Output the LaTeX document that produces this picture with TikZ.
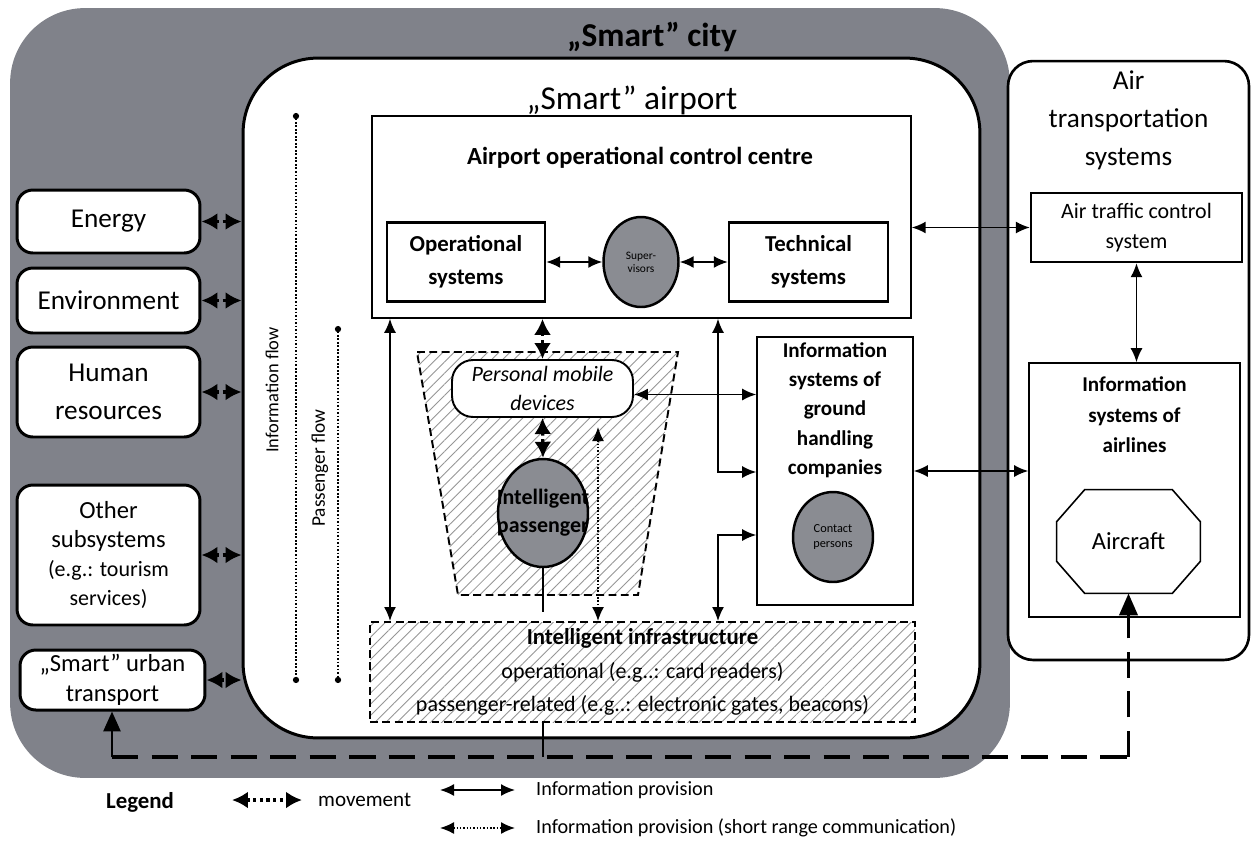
\documentclass[tikz,border=0pt]{standalone}
\usepackage{fontspec}
\setmainfont{Carlito}
\usetikzlibrary{arrows.meta,calc,patterns.meta,shapes.geometric}

\definecolor{citygrey}{RGB}{128,130,138}
\definecolor{persongrey}{RGB}{138,140,146}
\definecolor{hatchgrey}{RGB}{150,150,150}

\tikzset{
  sidebox/.style={draw, line width=1.7pt, rounded corners=9pt, fill=white, align=center, inner sep=1pt},
  sysbox/.style={draw, line width=1.4pt, fill=white, align=center, font=\bfseries\fontsize{13}{19}\selectfont},
  thinbox/.style={draw, line width=0.9pt, fill=white},
  person/.style={ellipse, draw, line width=1.4pt, fill=persongrey, inner sep=0pt},
  dashbox/.style={draw, dash pattern=on 4.5pt off 2.5pt, line width=1.1pt},
  hatched/.style={pattern={Lines[angle=45,distance=4.5pt,line width=0.5pt]}, pattern color=hatchgrey},
  infoarrow/.style={{Latex[length=2.8mm,width=2.4mm]}-{Latex[length=2.8mm,width=2.4mm]}, line width=1pt},
  movearrow/.style={{Latex[length=3.2mm,width=3.4mm]}-{Latex[length=3.2mm,width=3.4mm]}, line width=1.8pt, dotted},
  shortarrow/.style={{Latex[length=2.8mm,width=2.4mm]}-{Latex[length=2.8mm,width=2.4mm]}, line width=0.9pt, densely dotted},
  flowline/.style={{Circle[length=3.5pt]}-{Circle[length=3.5pt]}, line width=1pt, densely dotted},
  dashline/.style={line width=2.2pt, dash pattern=on 15pt off 7.5pt},
}

\begin{document}
\begin{tikzpicture}[x=0.02cm, y=-0.02cm]
\useasboundingbox (0,0) rectangle (1252,840);

\node[fill=citygrey, rounded corners=1.5cm, minimum width=20cm, minimum height=15.4cm] (city) at (510,393) {};
\node[font=\bfseries\fontsize{19}{22}\selectfont] (citytitle) at (652,37) {„Smart” city};

\node[draw, line width=1.7pt, rounded corners=1.5cm, fill=white, minimum width=14.74cm, minimum height=13.6cm] (airport) at (611.5,398) {};
\node[font=\fontsize{19}{22}\selectfont] (airporttitle) at (632,100) {„Smart” airport};

\node[draw, line width=1.5pt, rounded corners=0.5cm, fill=white, minimum width=4.82cm, minimum height=11.98cm] (airsys) at (1128.5,360.5) {};
\node[font=\fontsize{15.5}{21.5}\selectfont, align=center, anchor=north] (airsystitle) at ($(airsys.north)+(0,5)$) {Air\\transportation\\systems};

\node[sidebox, minimum width=3.66cm, minimum height=1.26cm, font=\fontsize{15.5}{21}\selectfont] (energy) at (108.5,221.5) {Energy};
\node[sidebox, minimum width=3.66cm, minimum height=1.3cm, font=\fontsize{15.5}{21}\selectfont] (environment) at (108.5,300.5) {Environment};
\node[sidebox, minimum width=3.66cm, minimum height=1.8cm, font=\fontsize{15.5}{21.5}\selectfont] (human) at (108.5,392) {Human\\resources};
\node[sidebox, minimum width=3.66cm, minimum height=2.8cm, font=\fontsize{14}{16.5}\selectfont] (other) at (108.5,555) {Other\\subsystems\\{\fontsize{12.5}{16}\selectfont (e.g.: tourism}\\{\fontsize{12.5}{16}\selectfont services)}};
\node[sidebox, minimum width=3.7cm, minimum height=1.2cm, font=\fontsize{14}{17}\selectfont] (urban) at (112.5,680) {„Smart” urban\\transport};

\foreach \side in {energy, environment, human, other, urban}
  \draw[movearrow] (\side.east) -- (\side.east -| airport.west);

\coordinate (iftop) at (296,113);
\coordinate (ifbot) at (296,683);
\draw[flowline] (iftop) -- (ifbot);
\node[rotate=90, font=\fontsize{10.5}{12}\selectfont] (iflabel) at (272,390) {Information flow};
\coordinate (pftop) at (338,326);
\coordinate (pfbot) at (338,683);
\draw[flowline] (pftop) -- (pfbot);
\node[rotate=90, font=\fontsize{11}{13}\selectfont] (pflabel) at (320,468) {Passenger flow};

\node[thinbox, minimum width=10.78cm, minimum height=4.04cm] (aocc) at (641.5,217) {};
\node[font=\bfseries\fontsize{14}{17}\selectfont] (aocctitle) at (640,158) {Airport operational control centre};
\node[sysbox, minimum width=3.16cm, minimum height=1.58cm] (opsys) at (466,262) {Operational\\systems};
\node[person, minimum width=1.5cm, minimum height=1.8cm] (sup) at (641,262) {};
\node[font=\fontsize{6.5}{7.5}\selectfont, align=center] (suplabel) at (sup) {Super-\\visors};
\node[sysbox, minimum width=3.18cm, minimum height=1.58cm] (techsys) at (808.5,262) {Technical\\systems};

\draw[dashbox, hatched] (417,352) -- (678,352) -- (638,595) -- (458,595) -- cycle;
\node[draw, line width=1.1pt, fill=white, rounded corners=12pt, minimum width=3.62cm, minimum height=1.14cm, align=center, inner sep=1pt, font=\itshape\fontsize{12.5}{16.5}\selectfont] (pmd) at (542.5,388.5) {Personal mobile\\devices};
\node[person, minimum width=1.8cm, minimum height=2.16cm] (pax) at (543,513) {};
\node[font=\bfseries\fontsize{12.5}{16}\selectfont, align=center] (paxlabel) at (pax) {Intelligent\\passenger};

\node[thinbox, minimum width=3.12cm, minimum height=5.36cm] (gh) at (835,471) {};
\node[font=\bfseries\fontsize{12}{16.7}\selectfont, align=center, anchor=north] (ghtitle) at (gh.north) {Information\\systems of\\ground\\handling\\companies};
\node[person, minimum width=1.6cm, minimum height=1.8cm] (contact) at (833,537) {};
\node[font=\fontsize{7}{8.5}\selectfont, align=center] (contactlabel) at (contact) {Contact\\persons};

\node[dashbox, hatched, minimum width=10.9cm, minimum height=2cm, align=center, font=\fontsize{12.5}{19}\selectfont] (infra) at (642.5,672) {{\bfseries\fontsize{13}{19}\selectfont Intelligent infrastructure}\\operational (e.g..: card readers)\\passenger-related (e.g..: electronic gates, beacons)};

\node[draw, line width=1.3pt, fill=white, minimum width=4.22cm, minimum height=1.38cm, align=center, font=\fontsize{12.5}{17}\selectfont] (atc) at (1136.5,227.5) {Air traffic control\\system};
\node[thinbox, minimum width=4.22cm, minimum height=5.08cm] (airlines) at (1134.5,490) {};
\node[font=\bfseries\fontsize{12}{17.5}\selectfont, align=center, anchor=north] (airlinestitle) at ($(airlines.north)+(0,8)$) {Information\\systems of\\airlines};
\node[minimum width=2.86cm, minimum height=2.06cm, font=\fontsize{14}{16}\selectfont] (aircraft) at (1128.5,541.5) {Aircraft};
\draw[line width=0.9pt] ($(aircraft.north west)+(28,0)$) -- ($(aircraft.north east)+(-28,0)$) -- ($(aircraft.north east)+(0,32)$) -- ($(aircraft.south east)+(0,-32)$) -- ($(aircraft.south east)+(-28,0)$) -- ($(aircraft.south west)+(28,0)$) -- ($(aircraft.south west)+(0,-32)$) -- ($(aircraft.north west)+(0,32)$) -- cycle;

\draw[infoarrow] (opsys.east) -- (sup.west);
\draw[infoarrow] (sup.east) -- (techsys.west);
\draw[infoarrow] (atc.west) -- (atc.west -| aocc.east);
\draw[infoarrow] (atc.south) -- (atc.south |- airlines.north);
\draw[infoarrow] (gh.east) -- (gh.east -| airlines.west);

\coordinate (ctrlx) at (390,0);
\coordinate (ghup) at (718,472);
\coordinate (ghdown) at (718,535);
\coordinate (srtop) at (598,427);
\coordinate (pmdout) at ($(pmd.east)+(0,6)$);
\coordinate (paxstub) at (543,612);
\draw[infoarrow] (aocc.south -| ctrlx) -- (infra.north -| ctrlx);
\draw[movearrow] (aocc.south -| pmd.north) -- (pmd.north);
\draw[movearrow] (pmd.south) -- (pax.north);
\draw[infoarrow] (pmdout) -- (pmdout -| gh.west);
\draw[infoarrow] (aocc.south -| ghup) |- (ghup -| gh.west);
\draw[infoarrow] (infra.north -| ghdown) |- (ghdown -| gh.west);
\draw[shortarrow] (srtop) -- (srtop |- infra.north);
\draw[line width=1pt] (pax.south) -- (paxstub);

\coordinate (dmid) at (543,757);
\coordinate (dleft) at (112,757);
\coordinate (dright) at (1128.5,757);
\draw[line width=1.2pt] (infra.south -| dmid) -- (dmid);
\draw[dashline] (dleft) -- (dright);
\draw[line width=1.6pt, -{Triangle[length=4mm,width=3.4mm]}] (dleft) -- (dleft |- urban.south);
\draw[dashline, -{Triangle[length=4.4mm,width=3.6mm]}] (dright) -- (dright |- aircraft.south);

\node[font=\bfseries\fontsize{13}{15}\selectfont] (legend) at (140,802) {Legend};
\coordinate (mvA) at (232,800);
\coordinate (mvB) at (302,800);
\draw[movearrow] (mvA) -- (mvB);
\node[anchor=west, font=\fontsize{12}{14}\selectfont] (mvtext) at (312,800) {movement};
\coordinate (ipA) at (440,790);
\coordinate (ipB) at (515,790);
\draw[infoarrow] (ipA) -- (ipB);
\node[anchor=west, font=\fontsize{11.5}{14}\selectfont] (iptext) at (530,790) {Information provision};
\coordinate (srA) at (440,828);
\coordinate (srB) at (515,828);
\draw[shortarrow] (srA) -- (srB);
\node[anchor=west, font=\fontsize{11.5}{14}\selectfont] (srtext) at (530,828) {Information provision (short range communication)};

\end{tikzpicture}
\end{document}
